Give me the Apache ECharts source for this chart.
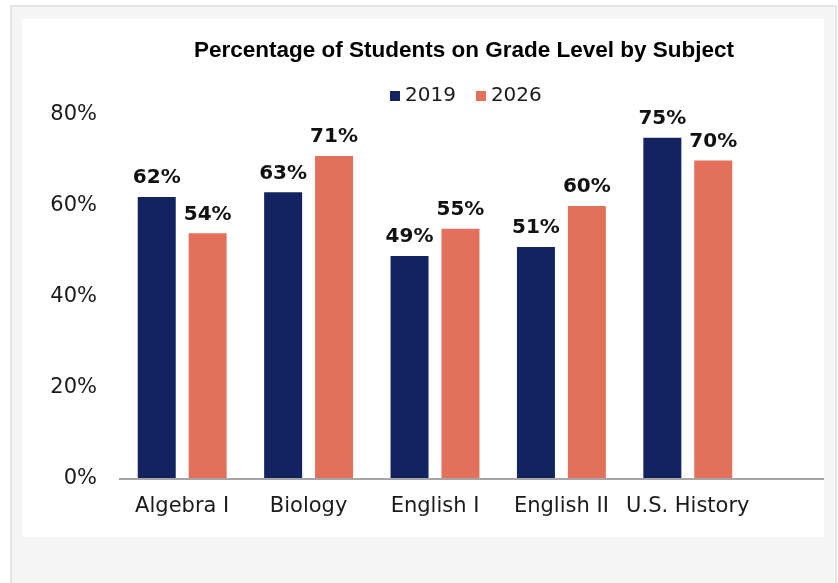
<!DOCTYPE html>
<html>
<head>
<meta charset="utf-8">
<script src="https://cdn.jsdelivr.net/npm/echarts@6/dist/echarts.min.js"></script>
<style>
  html, body { margin: 0; padding: 0; background: #ffffff; width: 838px; height: 583px; overflow: hidden; }
  #frame { position: absolute; left: 10px; top: 5px; width: 823px; height: 580px; background: #f5f5f5; border-top: 2px solid #e4e4e4; border-left: 2px solid #e4e4e4; border-right: 2px solid #e4e4e4; }
  #card { position: absolute; left: 22px; top: 19px; width: 802px; height: 518px; background: #ffffff; }
  #chart { position: absolute; left: 0; top: 0; width: 838px; height: 583px; }
</style>
</head>
<body>
<div id="frame"></div>
<div id="card"></div>
<div id="chart"></div>
<script>
const categories = ['Algebra I', 'Biology', 'English I', 'English II', 'U.S. History'];
const values2019 = [62, 63, 49, 51, 75];
const values2026 = [54, 71, 55, 60, 70];
const seriesNames = ['2019', '2026'];
const yTicks = [0, 20, 40, 60, 80];

const chart = echarts.init(document.getElementById('chart'), null, { renderer: 'canvas' });
const labelFont = 'DejaVu Sans';
const dataLabel = {
  show: true,
  position: 'top',
  distance: 9,
  formatter: p => p.value + '%',
  fontFamily: labelFont,
  fontWeight: 'bold',
  fontSize: 20,
  color: '#111111'
};
const option = {
  backgroundColor: 'transparent',
  animation: false,
  title: {
    text: 'Percentage of Students on Grade Level by Subject',
    left: 459,
    textAlign: 'center',
    top: 34,
    textStyle: { fontFamily: 'Liberation Sans', fontWeight: 'bold', fontSize: 22.5, color: '#000000' }
  },
  legend: {
    data: seriesNames,
    left: 385,
    top: 81,
    itemWidth: 10,
    itemHeight: 10,
    itemGap: 20,
    icon: 'rect',
    textStyle: { fontFamily: labelFont, fontSize: 20, color: '#1a1a1a' }
  },
  grid: { left: 119, top: 115, width: 632, height: 364, containLabel: false },
  xAxis: {
    type: 'category',
    data: categories,
    axisTick: { show: false },
    axisLine: { show: false },
    axisLabel: { fontFamily: labelFont, fontSize: 21, color: '#1a1a1a', margin: 17, interval: 0 }
  },
  yAxis: {
    type: 'value',
    min: yTicks[0],
    max: yTicks[yTicks.length - 1],
    interval: 20,
    splitLine: { show: false },
    axisLine: { show: false },
    axisTick: { show: false },
    axisLabel: { formatter: v => v + '%', fontFamily: labelFont, fontSize: 21, color: '#1a1a1a', margin: 22 }
  },
  series: [
    { name: seriesNames[0], type: 'bar', data: values2019, barWidth: 38, barGap: '34%', itemStyle: { color: '#13235F' }, label: dataLabel },
    { name: seriesNames[1], type: 'bar', data: values2026, barWidth: 38, itemStyle: { color: '#E3705B' }, label: dataLabel }
  ]
};
chart.setOption(option);
const yZero = chart.convertToPixel({ yAxisIndex: 0 }, 0);
chart.setOption({
  graphic: [{
    type: 'line',
    z: 10,
    shape: { x1: 119, y1: yZero, x2: 824, y2: yZero },
    style: { stroke: '#a6a6a6', lineWidth: 2 }
  }]
});
</script>
</body>
</html>
